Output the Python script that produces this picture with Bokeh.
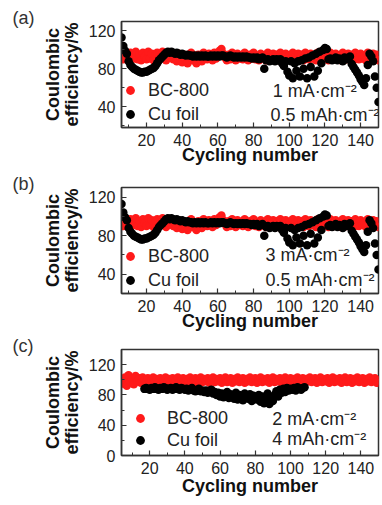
from bokeh.plotting import figure
from bokeh.layouts import column
from bokeh.models import Range1d, FixedTicker, Legend, LegendItem, Label, Title
from bokeh.embed import file_html
from bokeh.resources import INLINE

# ---------------- data ----------------
# panels (a) and (b): cycles 6..150
cycles_ab = list(range(6, 151))
bc800_ab = [
    96, 90, 98, 92, 89, 97, 94, 91, 98, 90,
    95, 89, 97, 93, 90, 98, 91, 96, 89, 94,
    97, 90, 93, 98, 91, 89, 96, 92, 97, 90,
    94, 88, 96, 91, 87, 95, 90, 86, 93, 97,
    89, 92, 86, 95, 91, 88, 97, 93, 90, 96,
    92, 89, 97, 91, 94, 99, 101, 96, 92, 89,
    95, 90, 97, 92, 89, 96, 91, 94, 90, 97,
    92, 89, 95, 91, 97, 90, 93, 89, 96, 91,
    94, 89, 97, 92, 90, 96, 91, 95, 89, 97,
    92, 90, 96, 91, 94, 89, 97, 92, 90, 96,
    91, 95, 89, 97, 92, 90, 96, 91, 94, 89,
    97, 92, 90, 96, 91, 95, 89, 97, 92, 90,
    96, 91, 94, 89, 97, 92, 90, 96, 91, 95,
    89, 97, 92, 90, 96, 91, 94, 89, 97, 92,
    90, 96, 91, 95, 89,
]
cu_ab = [
    113, 104, 99, 96, 88, 84, 82, 80, 79, 78,
    77, 76, 76, 77, 77, 78, 79, 80, 81, 83,
    86, 89, 91, 93, 95, 97, 98, 97, 98, 97,
    96, 97, 96, 95, 96, 95, 94, 95, 94, 94,
    93, 94, 93, 94, 93, 94, 93, 94, 93, 93,
    94, 93, 94, 93, 94, 93, 94, 94, 93, 92,
    93, 94, 93, 92, 93, 92, 93, 92, 93, 92,
    93, 92, 92, 91, 92, 91, 92, 90, 91, 92,
    80, 89, 90, 88, 89, 90, 88, 90, 89, 90,
    86, 83, 88, 77, 73, 88, 70, 86, 78, 88,
    72, 89, 80, 91, 70, 92, 82, 94, 72, 96,
    78, 98, 86, 100, 102, 101, 90, 91, 89, 90,
    92, 89, 91, 90, 88, 92, 90, 91, 93, 85,
    82, 79, 76, 73, 69, 66, 63, 70, 84, 96,
    93, 88, 72, 60, 45,
]

# panel (c)
cycles_c_bc = list(range(5, 151))
bc800_c = [
    95, 103, 92, 106, 97, 101, 94, 105, 98, 102,
    96, 103, 99, 97, 102, 96, 100, 103, 97, 101,
    98, 102, 96, 100, 103, 97, 101, 98, 102, 96,
    100, 103, 97, 99, 102, 96, 101, 98, 103, 97,
    100, 102, 96, 99, 103, 97, 101, 98, 102, 96,
    100, 103, 97, 101, 98, 102, 96, 100, 103, 97,
    99, 102, 96, 101, 98, 103, 97, 100, 102, 96,
    101, 98, 103, 97, 100, 102, 96, 99, 103, 97,
    101, 98, 102, 96, 100, 103, 97, 101, 98, 102,
    96, 100, 103, 97, 99, 102, 96, 101, 98, 103,
    97, 100, 102, 96, 101, 98, 103, 97, 100, 102,
    96, 99, 103, 97, 101, 98, 102, 96, 100, 103,
    97, 101, 98, 102, 96, 100, 103, 97, 99, 102,
    96, 101, 98, 103, 97, 100, 102, 96, 101, 98,
    103, 97, 100, 102, 96, 99,
]
cycles_c_cu = list(range(17, 109))
cu_c = [
    88, 89, 88, 87, 89, 88, 90, 88, 87, 89, 88, 90, 89, 87,
    88, 89, 87, 88, 90, 88, 87, 89, 88, 87,
    88, 86, 87, 89, 86, 85, 87, 88, 85, 86,
    84, 86, 83, 85, 87, 82, 84, 80, 83, 78,
    82, 77, 80, 84, 76, 81, 79, 75, 83, 74,
    80, 77, 73, 82, 78, 75, 81, 72, 79, 76,
    74, 80, 71, 78, 69, 75, 82, 68, 77, 72,
    80, 85, 78, 87, 83, 88, 84, 89, 86, 88,
    87, 89, 86, 90, 88, 87, 89, 90,
]

x_ticks = [20, 40, 60, 80, 100, 120, 140]
x_minor = [10, 30, 50, 70, 90, 110, 130, 150]
series_names = ["BC-800", "Cu foil"]
x_title = "Cycling number"
y_title = "Coulombic\nefficiency/%"
FONT = "Liberation Sans"
AX = "#333333"


def panel(tag, xb, yb, xc, yc, xr, yr, yt, ym, cond, height, top, bottom, xt_so,
          leg_loc, leg_spacing, leg_standoff, cond_xy):
    p = figure(width=382, height=height, x_range=Range1d(*xr), y_range=Range1d(*yr),
               output_backend="svg", toolbar_location=None,
               min_border_left=121, min_border_right=4, min_border_top=top,
               min_border_bottom=bottom)
    p.grid.visible = False
    p.outline_line_color = AX
    p.outline_line_width = 1.5
    p.background_fill_color = "white"
    p.border_fill_color = "white"

    # panel tag "(a)" etc.
    p.title.text = tag
    p.title.align = "left"
    p.title.offset = -109
    p.title.standoff = -14
    p.title.vertical_align = "middle"
    p.title.text_font = FONT
    p.title.text_font_size = "18px"
    p.title.text_font_style = "normal"
    p.title.text_color = "#333333"

    p.xaxis.ticker = FixedTicker(ticks=x_ticks, minor_ticks=x_minor)
    p.yaxis.ticker = FixedTicker(ticks=yt, minor_ticks=ym)
    p.yaxis.axis_label = y_title
    for ax in (p.xaxis[0], p.yaxis[0]):
        ax.axis_line_color = AX
        ax.axis_line_width = 1.5
        ax.major_tick_line_color = AX
        ax.minor_tick_line_color = AX
        ax.major_tick_line_width = 1.2
        ax.major_tick_out = 0
        ax.major_tick_in = 5
        ax.minor_tick_out = 0
        ax.minor_tick_in = 3
        ax.major_label_text_font = FONT
        ax.major_label_text_font_size = "16px"
        ax.major_label_text_color = "#222222"
        ax.axis_label_text_font = FONT
        ax.axis_label_text_font_style = "bold"
        ax.axis_label_text_font_size = "18px"
        ax.axis_label_text_color = "#111111"
    p.xaxis[0].major_label_standoff = 6
    p.yaxis[0].major_label_standoff = 6
    p.yaxis[0].axis_label_standoff = 4
    p.yaxis[0].axis_label_text_line_height = 0.95

    # x axis title as a below-title, so its gap can be tightened
    p.add_layout(Title(text=x_title, align="center", vertical_align="middle",
                       standoff=xt_so, text_font=FONT, text_font_size="18px",
                       text_font_style="bold", text_color="#111111"), "below")

    r1 = p.scatter(xb, yb, size=8.5, color="#ff1a1a", line_width=0)
    r2 = p.scatter(xc, yc, size=8.5, color="black", line_width=0)

    leg = Legend(items=[LegendItem(label=series_names[0], renderers=[r1]),
                        LegendItem(label=series_names[1], renderers=[r2])],
                 location=leg_loc, background_fill_alpha=0, border_line_alpha=0,
                 padding=0, margin=0, spacing=leg_spacing, glyph_width=22,
                 glyph_height=22, label_standoff=leg_standoff,
                 label_text_font=FONT, label_text_font_size="18px",
                 label_text_color="#222222")
    p.add_layout(leg)

    for (cx, cy), txt in zip(cond_xy, cond):
        p.add_layout(Label(x=cx, y=cy, text=txt, text_font=FONT,
                           text_font_size="18px", text_color="#222222",
                           text_baseline="middle"))
    return p


pa = panel("(a)", cycles_ab, bc800_ab, cycles_ab, cu_ab, (6, 150), (18, 130),
           [40, 80, 120], [20, 60, 100], ["1 mA·cm⁻²", "0.5 mAh·cm⁻²"], 173, 21, 46, -9,
           (-2, 2), 2, 7, [(90.7, 56.8), (89.5, 31.6)])
pb = panel("(b)", cycles_ab, bc800_ab, cycles_ab, cu_ab, (6, 150), (20, 130),
           [40, 80, 120], [20, 60, 100], ["3 mA·cm⁻²", "0.5 mAh·cm⁻²"], 164, 14, 44, -9,
           (-2, 2), 2, 7, [(86.7, 59.5), (86.7, 33.8)])
pc = panel("(c)", cycles_c_bc, bc800_c, cycles_c_cu, cu_c, (4, 150), (0, 140),
           [0, 40, 80, 120], [20, 60, 100, 140], ["2 mA·cm⁻²", "4 mAh·cm⁻²"], 168, 12, 50, -4,
           (8, 4), -1, 16, [(89.6, 47.7), (89.6, 21.9)])

layout = column(pa, pb, pc, spacing=0)
open("out.html", "w").write(file_html(layout, INLINE))
